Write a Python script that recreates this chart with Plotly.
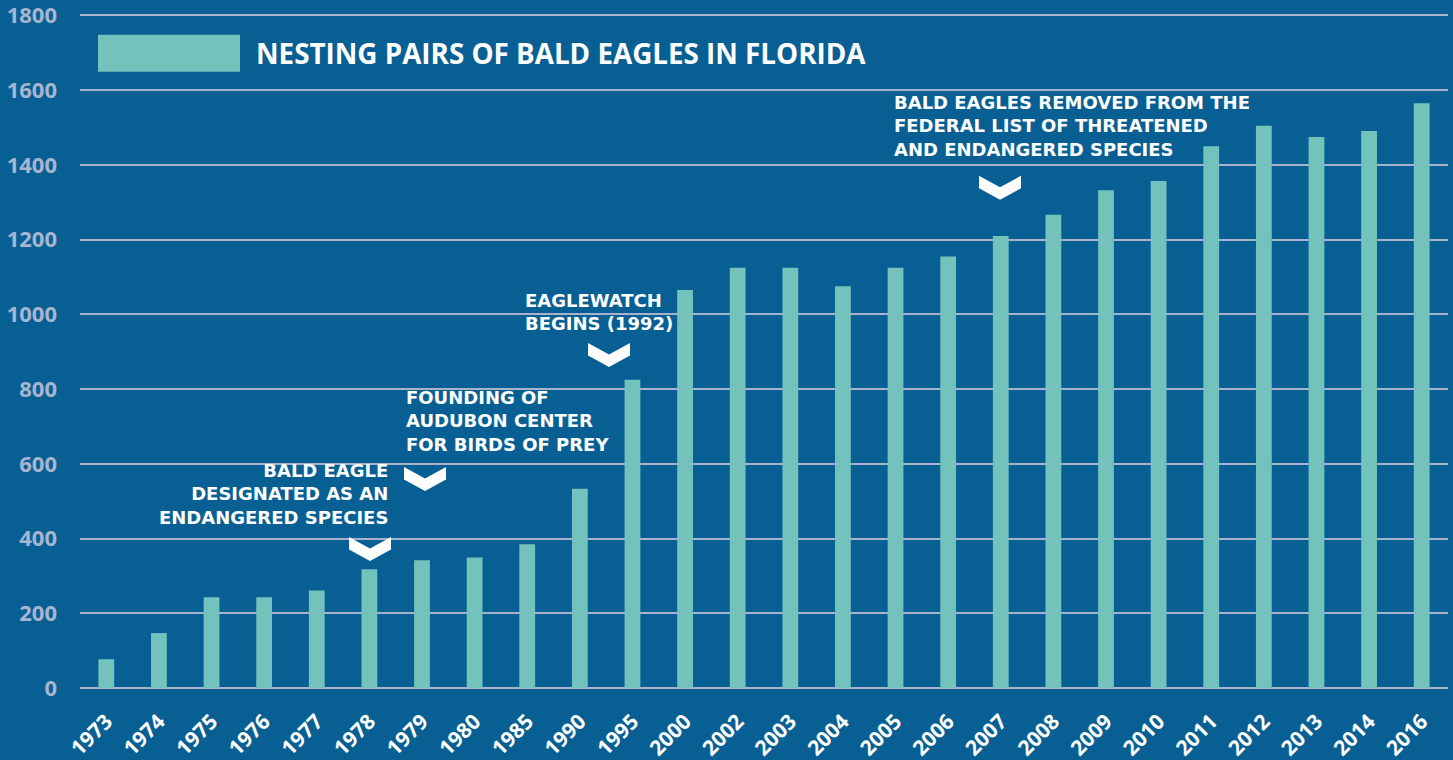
import plotly.graph_objects as go

years = ["1973", "1974", "1975", "1976", "1977", "1978", "1979", "1980", "1985", "1990",
         "1995", "2000", "2002", "2003", "2004", "2005", "2006", "2007", "2008", "2009",
         "2010", "2011", "2012", "2013", "2014", "2016"]
nesting_pairs = [77, 147, 243, 243, 261, 318, 342, 349, 385, 533,
                 825, 1065, 1125, 1125, 1075, 1125, 1155, 1210, 1267, 1332,
                 1357, 1450, 1505, 1475, 1491, 1565]
y_ticks = [0, 200, 400, 600, 800, 1000, 1200, 1400, 1600, 1800]
series_name = "NESTING PAIRS OF BALD EAGLES IN FLORIDA"

notes = [
    ("BALD EAGLE<br>DESIGNATED AS AN<br>ENDANGERED SPECIES", 390, 494, "right"),
    ("FOUNDING OF<br>AUDUBON CENTER<br>FOR BIRDS OF PREY", 404, 421, "left"),
    ("EAGLEWATCH<br>BEGINS (1992)", 523, 312, "left"),
    ("BALD EAGLES REMOVED FROM THE<br>FEDERAL LIST OF THREATENED<br>AND ENDANGERED SPECIES", 892, 126, "left"),
]
chevrons = [(370, 537), (425, 467), (609, 343), (1000, 176)]

W, H = 1453, 760
YMAX = 1804
ML, MR, MB = 80, 5, 72
Y0PX = H - MB                      # pixel row of value 0
PX_PER_UNIT = (Y0PX - 15.7) / 1800
MT = Y0PX - YMAX * PX_PER_UNIT
PW, PH = W - ML - MR, H - MT - MB
BG = "#085f94"
BAR = "#73c2bb"
GRID = "#a9b2cc"
FONT = "Open Sans"
NOTE_FONT = "DejaVu Sans"

n = len(years)
def xp(px):
    return (px - ML) / PW
def yp(py):
    return (Y0PX - py) / PH
def xd(px):
    return (px - ML) / PW * n - 0.5
def yd(py):
    return (Y0PX - py) / PX_PER_UNIT

fig = go.Figure()
fig.add_trace(go.Bar(
    x=list(range(n)), y=nesting_pairs, name=series_name,
    marker=dict(color=BAR, line=dict(width=0)), width=0.30,
))

shapes = []
shapes.append(dict(type="rect", xref="paper", yref="paper",
                   x0=xp(98), x1=xp(240), y0=yp(72), y1=yp(35),
                   fillcolor=BAR, line=dict(width=0), layer="above"))
pts = [(-21, 0), (0, 11.5), (21, 0), (21, 12.5), (0, 24), (-21, 12.5)]
for cx, top in chevrons:
    path = "M " + " L ".join(f"{xd(cx + dx):.4f},{yd(top + dy):.3f}" for dx, dy in pts) + " Z"
    shapes.append(dict(type="path", xref="x", yref="y", path=path,
                       fillcolor="white", line=dict(width=0), layer="above"))

annotations = [dict(text=series_name, xref="paper", yref="paper", x=xp(254), y=yp(53),
                    xanchor="left", yanchor="middle", showarrow=False,
                    font=dict(family=FONT, size=27.8, color="white", weight="bold"))]
for txt, px, py, al in notes:
    annotations.append(dict(text=txt, xref="paper", yref="paper", x=xp(px), y=yp(py),
                            xanchor=al, yanchor="middle", align=al, showarrow=False,
                            font=dict(family=NOTE_FONT, size=18, color="white", weight="bold")))

fig.update_layout(
    width=W, height=H,
    margin=dict(l=ML, r=MR, t=MT, b=MB, autoexpand=False),
    paper_bgcolor=BG, plot_bgcolor=BG,
    showlegend=False,
    shapes=shapes,
    annotations=annotations,
    xaxis=dict(range=[-0.5, n - 0.5], tickmode="array", tickvals=list(range(n)), ticktext=years,
               tickangle=-45, showgrid=False, zeroline=False, showline=False, ticks="",
               ticklabelstandoff=16, automargin=False, ticklabeloverflow="allow",
               tickfont=dict(family=FONT, size=21, color="white", weight="bold")),
    yaxis=dict(range=[0, YMAX], tickmode="array", tickvals=y_ticks,
               showgrid=True, gridcolor=GRID, gridwidth=2,
               zeroline=True, zerolinecolor=GRID, zerolinewidth=2, showline=False, ticks="",
               ticklabelstandoff=22, automargin=False, ticklabeloverflow="allow",
               tickfont=dict(family=FONT, size=22, color="#a7b5cf", weight="bold")),
)

fig.write_html("out.html", config={"displayModeBar": False},
               post_script="document.body.style.margin='0';")
